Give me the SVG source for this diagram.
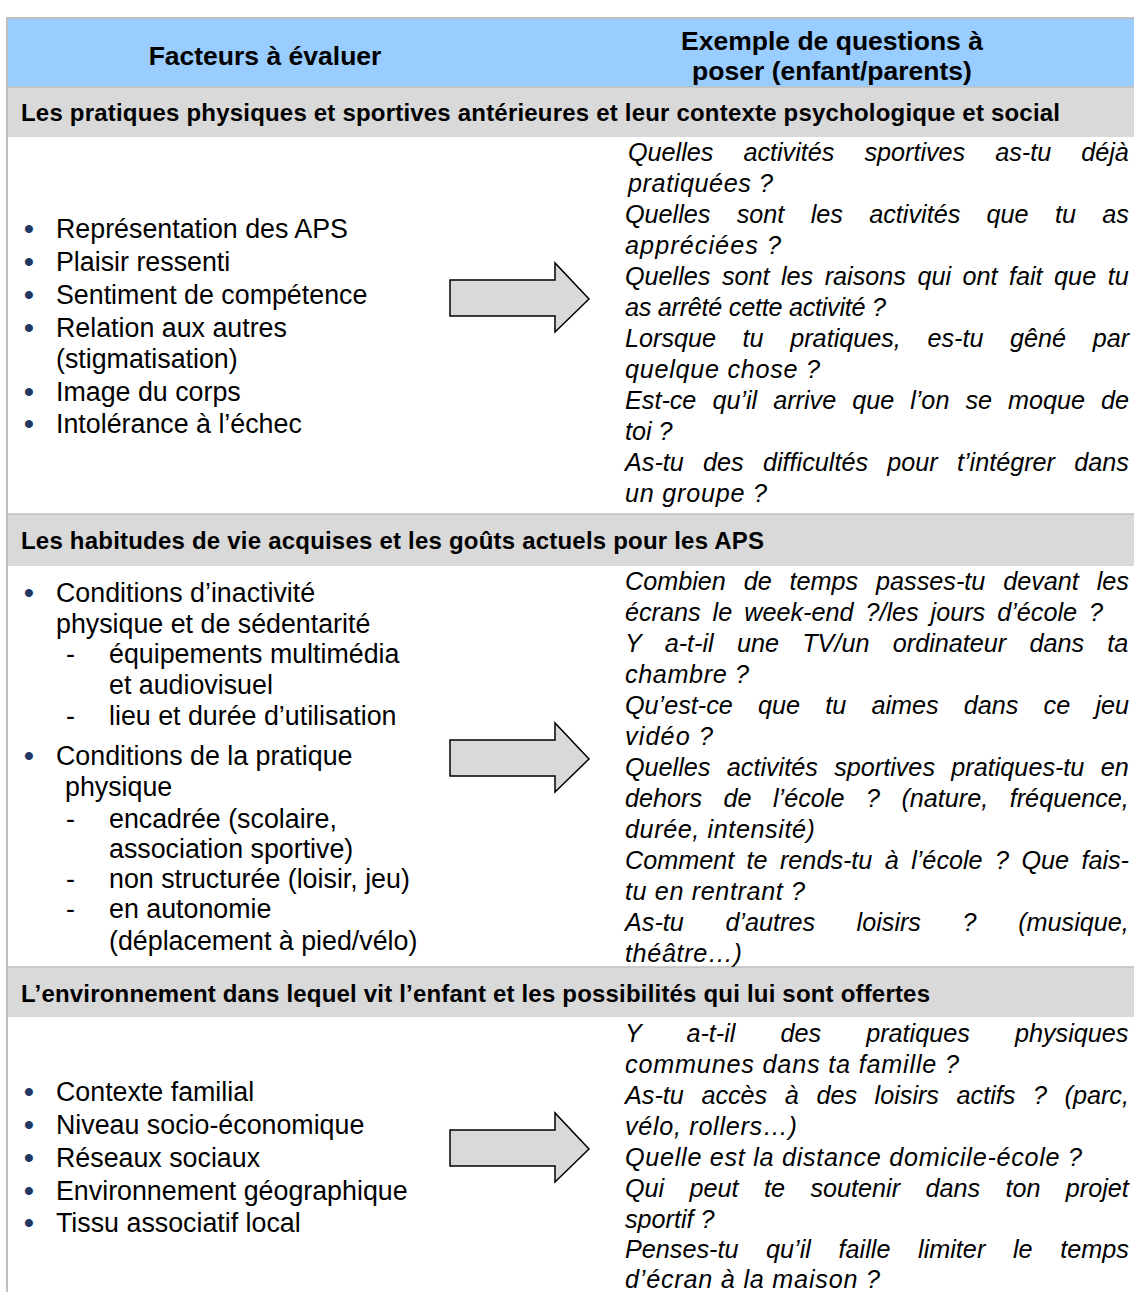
<svg xmlns="http://www.w3.org/2000/svg" xmlns:xlink="http://www.w3.org/1999/xlink" width="1134" height="1292" viewBox="0 0 1134 1292">
<defs>
<style>
.l{font-family:"Liberation Sans",Arial,Helvetica,sans-serif;font-size:26.8px;fill:#000}
.r{font-family:"Liberation Sans",Arial,Helvetica,sans-serif;font-size:25.2px;font-style:italic;fill:#000}
.h{font-family:"Liberation Sans",Arial,Helvetica,sans-serif;font-size:26.5px;font-weight:bold;fill:#000}
.t{font-family:"Liberation Sans",Arial,Helvetica,sans-serif;font-size:24px;font-weight:bold;fill:#000}
.b{font-family:"Liberation Sans",Arial,Helvetica,sans-serif;font-size:28px;font-weight:bold;fill:#1F3864;text-anchor:middle}
.grey{fill:#D9D9D9}
.rule{stroke:#BFBFBF;stroke-width:2;fill:none}
.arrow{fill:#D9D9D9;stroke:#000;stroke-width:1.5;stroke-linejoin:miter}
</style>
<path id="arr" d="M0,17 H105 V0 L139,36 L105,69 V53 H0 Z"/>
</defs>
<rect x="0" y="0" width="1134" height="1292" fill="#fff"/>

<g id="table-frame">
<rect x="8" y="19" width="1126" height="68" fill="#99CCFF"/>
<rect class="grey" x="8" y="87" width="1126" height="50"/>
<rect class="grey" x="8" y="514" width="1126" height="52"/>
<rect class="grey" x="8" y="967" width="1126" height="50"/>
<line class="rule" x1="7" y1="18" x2="1134" y2="18" stroke="#C4BCB4"/>
<line class="rule" x1="7" y1="87" x2="1134" y2="87" style="stroke-width:1.5"/>
<line class="rule" x1="7" y1="514" x2="1134" y2="514" style="stroke-width:1.5"/>
<line class="rule" x1="7" y1="967" x2="1134" y2="967" style="stroke-width:1.5"/>
<line class="rule" x1="7" y1="17" x2="7" y2="1292"/>
</g>

<g id="header">
<text class="h" x="265" y="65" text-anchor="middle">Facteurs à évaluer</text>
<text class="h" x="832" y="50" text-anchor="middle">Exemple de questions à</text>
<text class="h" x="832" y="80" text-anchor="middle">poser (enfant/parents)</text>
</g>

<g id="section1">
<text class="t" x="21" y="121" textLength="1039" lengthAdjust="spacing">Les pratiques physiques et sportives antérieures et leur contexte psychologique et social</text>
<g id="s1-factors">
<text class="b" x="29" y="238">•</text><text class="l" x="56" y="238">Représentation des APS</text>
<text class="b" x="29" y="271">•</text><text class="l" x="56" y="271">Plaisir ressenti</text>
<text class="b" x="29" y="304">•</text><text class="l" x="56" y="304">Sentiment de compétence</text>
<text class="b" x="29" y="337">•</text><text class="l" x="56" y="337">Relation aux autres</text>
<text class="l" x="56" y="368">(stigmatisation)</text>
<text class="b" x="29" y="401">•</text><text class="l" x="56" y="401">Image du corps</text>
<text class="b" x="29" y="433">•</text><text class="l" x="56" y="433">Intolérance à l’échec</text>
</g>
<use id="s1-arrow" class="arrow" xlink:href="#arr" transform="translate(450,263)"/>
<g id="s1-questions">
<text class="r" x="628" y="161" style="word-spacing:23px">Quelles activités sportives as-tu déjà</text>
<text class="r" x="628" y="192" textLength="145" lengthAdjust="spacing">pratiquées ?</text>
<text class="r" x="625" y="223" style="word-spacing:19.35px">Quelles sont les activités que tu as</text>
<text class="r" x="625" y="254" textLength="156" lengthAdjust="spacing">appréciées ?</text>
<text class="r" x="625" y="285" style="word-spacing:4.5px">Quelles sont les raisons qui ont fait que tu</text>
<text class="r" x="625" y="316" textLength="261" lengthAdjust="spacing">as arrêté cette activité ?</text>
<text class="r" x="625" y="347" style="word-spacing:19.6px">Lorsque tu pratiques, es-tu gêné par</text>
<text class="r" x="625" y="378" textLength="195" lengthAdjust="spacing">quelque chose ?</text>
<text class="r" x="625" y="409" style="word-spacing:9px">Est-ce qu’il arrive que l’on se moque de</text>
<text class="r" x="625" y="440">toi ?</text>
<text class="r" x="625" y="471" style="word-spacing:12.3px">As-tu des difficultés pour t’intégrer dans</text>
<text class="r" x="625" y="502" textLength="142" lengthAdjust="spacing">un groupe ?</text>
</g>
</g>

<g id="section2">
<text class="t" x="21" y="549" textLength="743" lengthAdjust="spacing">Les habitudes de vie acquises et les goûts actuels pour les APS</text>
<g id="s2-factors">
<text class="b" x="29" y="602">•</text><text class="l" x="56" y="602">Conditions d’inactivité</text>
<text class="l" x="56" y="633">physique et de sédentarité</text>
<text class="l" x="66" y="663">-</text><text class="l" x="109" y="663">équipements multimédia</text>
<text class="l" x="109" y="694">et audiovisuel</text>
<text class="l" x="66" y="725">-</text><text class="l" x="109" y="725">lieu et durée d’utilisation</text>
<text class="b" x="29" y="765">•</text><text class="l" x="56" y="765">Conditions de la pratique</text>
<text class="l" x="65" y="796">physique</text>
<text class="l" x="66" y="828">-</text><text class="l" x="109" y="828">encadrée (scolaire,</text>
<text class="l" x="109" y="858">association sportive)</text>
<text class="l" x="66" y="888">-</text><text class="l" x="109" y="888">non structurée (loisir, jeu)</text>
<text class="l" x="66" y="918">-</text><text class="l" x="109" y="918">en autonomie</text>
<text class="l" x="109" y="950">(déplacement à pied/vélo)</text>
</g>
<use id="s2-arrow" class="arrow" xlink:href="#arr" transform="translate(450,723)"/>
<g id="s2-questions">
<text class="r" x="625" y="590" style="word-spacing:10.9px">Combien de temps passes-tu devant les</text>
<text class="r" x="625" y="621" style="word-spacing:5px">écrans le week-end ?/les jours d’école ?</text>
<text class="r" x="625" y="652" style="word-spacing:16.3px">Y a-t-il une TV/un ordinateur dans ta</text>
<text class="r" x="625" y="683" textLength="124" lengthAdjust="spacing">chambre ?</text>
<text class="r" x="625" y="714" style="word-spacing:18.2px">Qu’est-ce que tu aimes dans ce jeu</text>
<text class="r" x="625" y="745" textLength="88" lengthAdjust="spacing">vidéo ?</text>
<text class="r" x="625" y="776" style="word-spacing:9.4px">Quelles activités sportives pratiques-tu en</text>
<text class="r" x="625" y="807" style="word-spacing:14.5px">dehors de l’école ? (nature, fréquence,</text>
<text class="r" x="625" y="838" textLength="190" lengthAdjust="spacing">durée, intensité)</text>
<text class="r" x="625" y="869" style="word-spacing:5.4px">Comment te rends-tu à l’école ? Que fais-</text>
<text class="r" x="625" y="900" textLength="180" lengthAdjust="spacing">tu en rentrant ?</text>
<text class="r" x="625" y="931" style="word-spacing:34.6px">As-tu d’autres loisirs ? (musique,</text>
<text class="r" x="625" y="962" textLength="117" lengthAdjust="spacing">théâtre…)</text>
</g>
</g>

<g id="section3">
<text class="t" x="21" y="1002" textLength="909" lengthAdjust="spacing">L’environnement dans lequel vit l’enfant et les possibilités qui lui sont offertes</text>
<g id="s3-factors">
<text class="b" x="29" y="1101">•</text><text class="l" x="56" y="1101">Contexte familial</text>
<text class="b" x="29" y="1134">•</text><text class="l" x="56" y="1134">Niveau socio-économique</text>
<text class="b" x="29" y="1167">•</text><text class="l" x="56" y="1167">Réseaux sociaux</text>
<text class="b" x="29" y="1200">•</text><text class="l" x="56" y="1200">Environnement géographique</text>
<text class="b" x="29" y="1232">•</text><text class="l" x="56" y="1232">Tissu associatif local</text>
</g>
<use id="s3-arrow" class="arrow" xlink:href="#arr" transform="translate(450,1113)"/>
<g id="s3-questions">
<text class="r" x="625" y="1042" style="word-spacing:38.1px">Y a-t-il des pratiques physiques</text>
<text class="r" x="625" y="1073" textLength="334" lengthAdjust="spacing">communes dans ta famille ?</text>
<text class="r" x="625" y="1104" style="word-spacing:10.6px">As-tu accès à des loisirs actifs ? (parc,</text>
<text class="r" x="625" y="1135" textLength="172" lengthAdjust="spacing">vélo, rollers…)</text>
<text class="r" x="625" y="1166" textLength="457" lengthAdjust="spacing">Quelle est la distance domicile-école ?</text>
<text class="r" x="625" y="1197" style="word-spacing:18.4px">Qui peut te soutenir dans ton projet</text>
<text class="r" x="625" y="1228">sportif ?</text>
<text class="r" x="625" y="1258" style="word-spacing:20.7px">Penses-tu qu’il faille limiter le temps</text>
<text class="r" x="625" y="1288" textLength="255" lengthAdjust="spacing">d’écran à la maison ?</text>
</g>
</g>
</svg>
